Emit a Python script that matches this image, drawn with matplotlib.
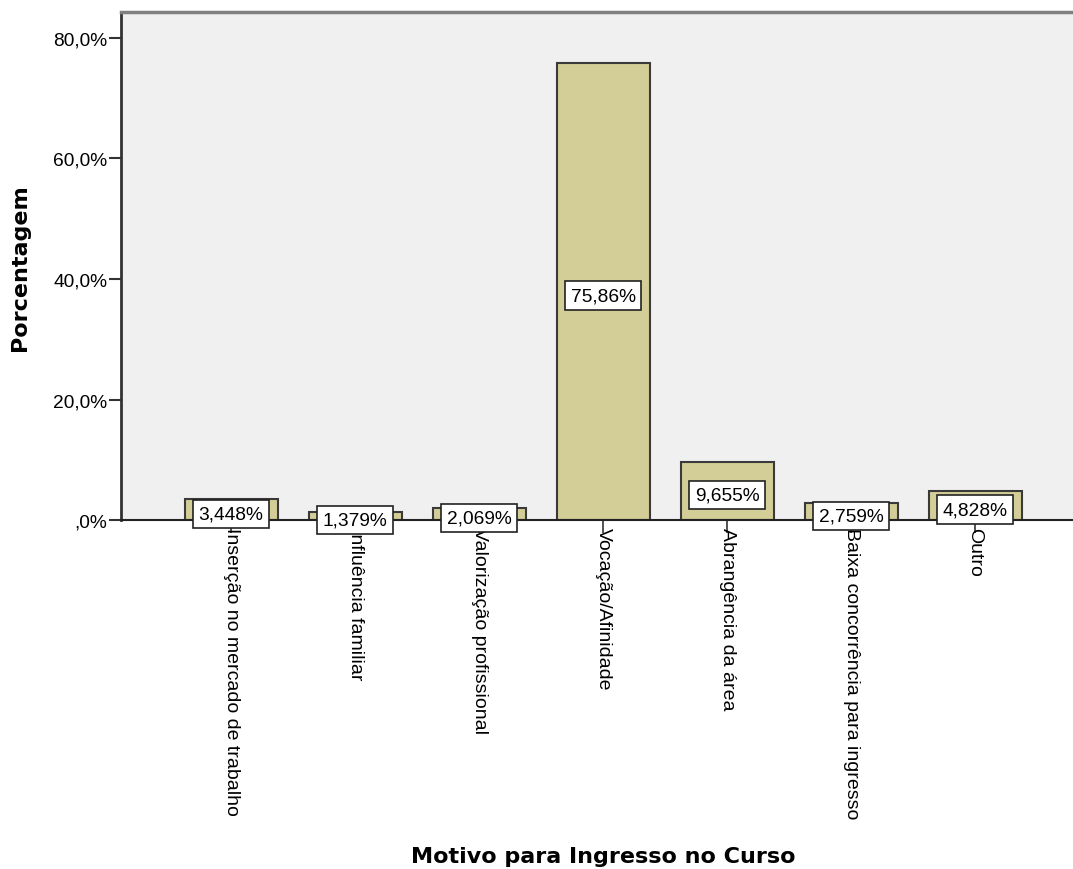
import matplotlib
matplotlib.use("Agg")
import matplotlib.pyplot as plt
from matplotlib.ticker import FuncFormatter

# ---------------- DATA ---------------- #

motivos = ["Inserção no mercado de trabalho", "Influência familiar",
           "Valorização profissional", "Vocação/Afinidade",
           "Abrangência da área", "Baixa concorrência para ingresso", "Outro"]
porcentagem = [3.448, 1.379, 2.069, 75.86, 9.655, 2.759, 4.828]
yticks = [0, 20, 40, 60, 80]

# ---------------- PLOT ---------------- #

plt.rcParams['font.family'] = ['Liberation Sans', 'DejaVu Sans']

fig = plt.figure(figsize=(10.73, 8.7), dpi=100)
ax = fig.add_axes([0.1128, 0.4011, 0.8872, 0.5839])
ax.set_facecolor('#F0F0F0')

x = list(range(len(motivos)))
ax.bar(x, porcentagem, width=0.75, color='#D3CE97', edgecolor='#3a3a3a',
       linewidth=1.5, zorder=2)

# value labels, slightly below the bar middle
for xi, v in zip(x, porcentagem):
    txt = ('%.4g' % v).replace('.', ',') + '%'
    ax.annotate(txt, (xi, v / 2), xytext=(0, -3), textcoords='offset points',
                ha='center', va='center', fontsize=13.8, zorder=4,
                annotation_clip=False,
                bbox=dict(boxstyle='square,pad=0.3', facecolor='white',
                          edgecolor='#222222', linewidth=1.2))

ax.axhline(0, color='#222222', linewidth=1.5, zorder=3, clip_on=False)

ax.set_xlim(-0.887, 6.79)
ax.set_ylim(0, 84.3)
ax.set_yticks(yticks)
ax.yaxis.set_major_formatter(FuncFormatter(
    lambda v, p: (',0%' if v == 0 else ('%.1f' % v).replace('.', ',') + '%')))
ax.set_xticks(x)
ax.set_xticklabels(motivos, rotation=-90, fontsize=14, va='top', ha='center')

ax.tick_params(axis='y', length=9, width=1.5, color='#333333', labelsize=13.8, pad=1)
ax.tick_params(axis='x', length=9, width=1.2, color='#333333', pad=-4)

ax.spines['right'].set_visible(False)
ax.spines['bottom'].set_visible(False)
ax.spines['left'].set_color('#333333')
ax.spines['left'].set_linewidth(2)
ax.spines['top'].set_color('#808080')
ax.spines['top'].set_linewidth(2.5)

fig.text(0.562, 0.003, "Motivo para Ingresso no Curso", ha='center', va='bottom',
         fontsize=16, fontweight='bold', family='DejaVu Sans')
fig.text(0.019, 0.692, "Porcentagem", ha='center', va='center', rotation=90,
         fontsize=16, fontweight='bold', family='DejaVu Sans')

plt.savefig("out.png", dpi=100)
